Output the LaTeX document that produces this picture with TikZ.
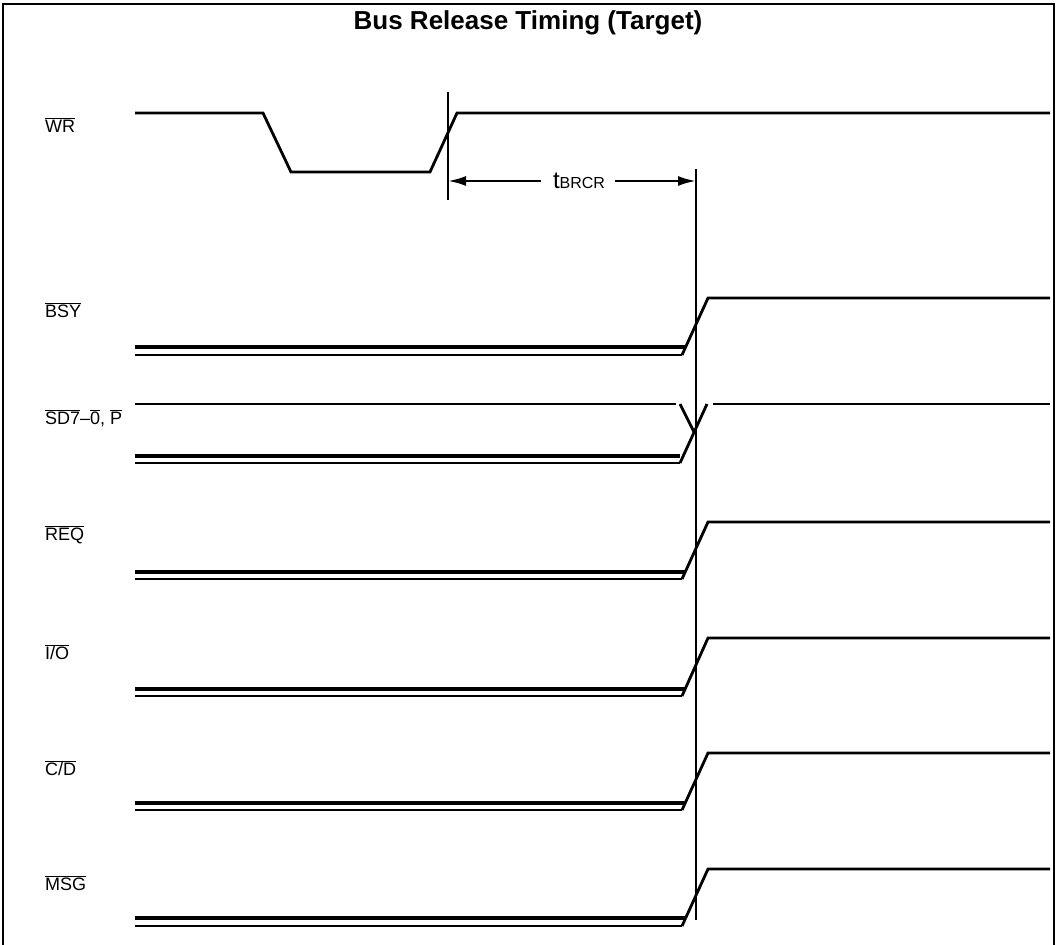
\documentclass[tikz,border=0pt]{standalone}
\usepackage{fontspec}
\setmainfont{Liberation Sans}
\usetikzlibrary{arrows.meta}
\newcommand\ovl[1]{$\overline{\hbox{#1}}$}
\tikzset{
  sig/.style={line width=2.8pt, line join=miter},
  lowa/.style={line width=3.6pt},
  lowb/.style={line width=2.8pt},
  marker/.style={line width=2.4pt},
  frame/.style={line width=2.2pt},
  lbl/.style={anchor=west, inner sep=0pt, font=\fontsize{18}{20}\selectfont},
  dim/.style={line width=2.4pt, -{Latex[length=18pt,width=10pt]}}
}
\begin{document}
\begin{tikzpicture}[x=1pt,y=-1pt]
\useasboundingbox (0,0) rectangle (1056,944);
% frame (open at the bottom)
\draw[frame] (3,950) -- (3,4) -- (1054,4) -- (1054,950);
\node[font=\fontsize{26}{30}\selectfont\bfseries, inner sep=0pt] (title) at (528,23) {Bus Release Timing (Target)};

% labels
\node[lbl] (lwr)  at (45,125) {\ovl{WR}};
\node[lbl] (lbsy) at (45,310) {\ovl{BSY}};
\node[lbl] (lsd)  at (45,418) {\ovl{SD7}--\ovl{0}, \ovl{P}};
\node[lbl] (lreq) at (45,535) {\ovl{REQ}};
\node[lbl] (lio)  at (45,652) {\ovl{I/O}};
\node[lbl] (lcd)  at (45,768) {\ovl{C/D}};
\node[lbl] (lmsg) at (45,883) {\ovl{MSG}};

% WR waveform
\draw[sig] (135,113) -- (263,113) -- (291,172) -- (430,172) -- (457,113) -- (1050,113);

% markers
\coordinate (m1top) at (448,92);
\coordinate (m1bot) at (448,200);
\coordinate (m2top) at (696,169);
\coordinate (m2bot) at (696,920);
\draw[marker] (m1top) -- (m1bot);
\draw[marker] (m2top) -- (m2bot);

% tBRCR dimension
\node[inner sep=0pt, anchor=base] (tb) at (579,189)
  {\fontsize{24}{26}\selectfont t\fontsize{16}{18}\selectfont BRCR};
\coordinate (al) at (448,181);
\coordinate (ar) at (696,181);
\coordinate (ls) at (541,181);
\coordinate (rs) at (615,181);
\draw[dim] (ls) -- (al);
\draw[dim] (rs) -- (ar);

% released signals (double low lines, rising edge, high)
\foreach \hy/\la/\lb in {298/347/355, 522/572/579, 638/689/696, 753/803/810, 869/918/926}{
  \draw[lowa] (135,\la) -- (685.5,\la);
  \draw[lowb] (135,\lb) -- (682,\lb);
  \draw[sig] (682,\lb) -- (708,\hy) -- (1050,\hy);
}

% SD7-0, P
\draw[sig] (135,404) -- (676,404);
\draw[sig] (680,404) -- (694.5,433);
\draw[lowa] (135,456) -- (680,456);
\draw[lowb] (135,463) -- (680,463);
\draw[sig] (680,463) -- (707,404);
\draw[sig] (713,404) -- (1050,404);
\end{tikzpicture}
\end{document}
